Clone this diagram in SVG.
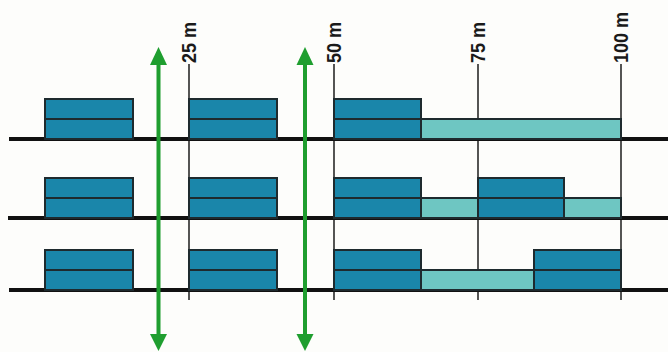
<svg xmlns="http://www.w3.org/2000/svg" width="668" height="352" viewBox="0 0 668 352">
<defs>
<style>
.bg{fill:#fdfdfb}
.tick{stroke:#2a2a2a;stroke-width:1.6;fill:none}
.lbl{font-family:"Liberation Sans",Arial,sans-serif;font-weight:bold;font-size:20px;fill:#1a1a1a}
.base{stroke:#111;stroke-width:4;fill:none}
.dk{fill:#1a86aa;stroke:#1e2a2e;stroke-width:2}
.lt{fill:#6ec6c2;stroke:#1e2a2e;stroke-width:2}
.mid{stroke:#1e2a2e;stroke-width:2}
.arr{stroke:#1f9e2f;stroke-width:4;fill:none}
.ah{fill:#1f9e2f}
</style>
</defs>
<rect class="bg" x="0" y="0" width="668" height="352"/>
<g id="scale">
<line class="tick" x1="189" y1="64" x2="189" y2="300"/>
<line class="tick" x1="334" y1="64" x2="334" y2="300"/>
<line class="tick" x1="478" y1="64" x2="478" y2="300"/>
<line class="tick" x1="621" y1="64" x2="621" y2="300"/>
<text class="lbl" transform="translate(196,63) rotate(-90) scale(0.9,1)">25 m</text>
<text class="lbl" transform="translate(341,63) rotate(-90) scale(0.9,1)">50 m</text>
<text class="lbl" transform="translate(485,63) rotate(-90) scale(0.9,1)">75 m</text>
<text class="lbl" transform="translate(628,63) rotate(-90) scale(0.9,1)">100 m</text>
</g>
<g id="row1">
<line class="base" x1="9" y1="139" x2="668" y2="139"/>
<rect class="dk" x="45" y="99" width="88" height="40"/><line class="mid" x1="45" y1="119" x2="133" y2="119"/>
<rect class="dk" x="189" y="99" width="88" height="40"/><line class="mid" x1="189" y1="119" x2="277" y2="119"/>
<rect class="lt" x="421" y="119" width="200" height="20"/>
<rect class="dk" x="334" y="99" width="87" height="40"/><line class="mid" x1="334" y1="119" x2="421" y2="119"/>
</g>
<g id="row2">
<line class="base" x1="8" y1="218" x2="668" y2="218"/>
<rect class="dk" x="45" y="178" width="88" height="40"/><line class="mid" x1="45" y1="198" x2="133" y2="198"/>
<rect class="dk" x="189" y="178" width="88" height="40"/><line class="mid" x1="189" y1="198" x2="277" y2="198"/>
<rect class="lt" x="421" y="198" width="57" height="20"/>
<rect class="lt" x="564" y="198" width="57" height="20"/>
<rect class="dk" x="334" y="178" width="87" height="40"/><line class="mid" x1="334" y1="198" x2="421" y2="198"/>
<rect class="dk" x="478" y="178" width="86" height="40"/><line class="mid" x1="478" y1="198" x2="564" y2="198"/>
</g>
<g id="row3">
<line class="base" x1="9" y1="290" x2="668" y2="290"/>
<rect class="dk" x="45" y="250" width="88" height="40"/><line class="mid" x1="45" y1="270" x2="133" y2="270"/>
<rect class="dk" x="189" y="250" width="88" height="40"/><line class="mid" x1="189" y1="270" x2="277" y2="270"/>
<rect class="lt" x="421" y="270" width="113" height="20"/>
<rect class="dk" x="334" y="250" width="87" height="40"/><line class="mid" x1="334" y1="270" x2="421" y2="270"/>
<rect class="dk" x="534" y="250" width="87" height="40"/><line class="mid" x1="534" y1="270" x2="621" y2="270"/>
</g>
<g id="connectors">
<line class="arr" x1="158.5" y1="62" x2="158.5" y2="337"/>
<polygon class="ah" points="158.5,47 150,65 167,65"/>
<polygon class="ah" points="158.5,351 150,334 167,334"/>
<line class="arr" x1="305" y1="62" x2="305" y2="337"/>
<polygon class="ah" points="305,47 296.5,65 313.5,65"/>
<polygon class="ah" points="305,351 296.5,334 313.5,334"/>
</g>
</svg>
